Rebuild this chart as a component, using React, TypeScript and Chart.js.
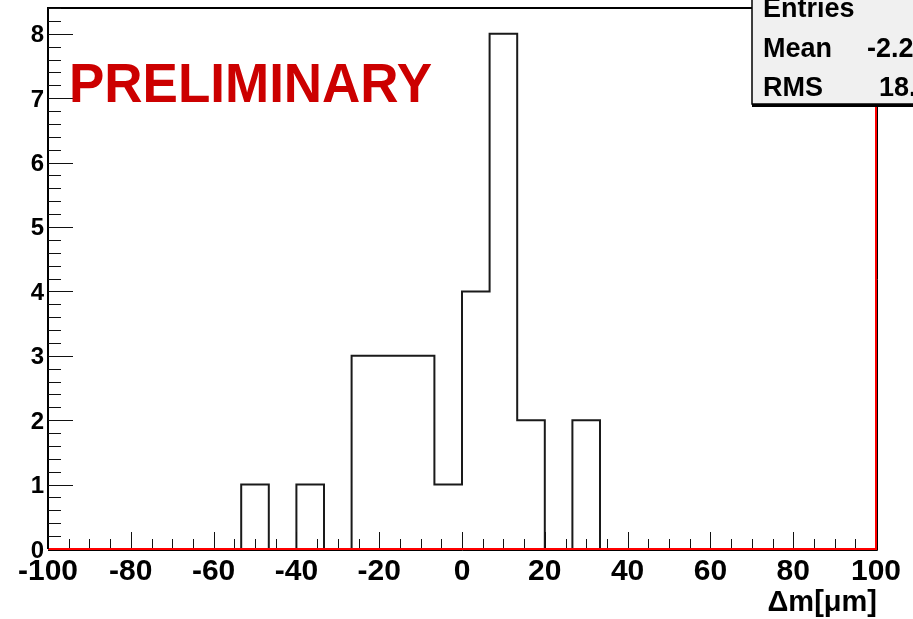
import { useEffect, useRef } from 'react';
import { Chart, registerables } from 'chart.js';

Chart.register(...registerables);

// Histogram binning: 30 equal bins over [-100, 100] µm
const X_MIN = -100;
const X_MAX = 100;
const N_BINS = 30;
const BIN_COUNTS = [0, 0, 0, 0, 0, 0, 0, 1, 0, 1, 0, 3, 3, 3, 1, 4, 8, 2, 0, 2, 0, 0, 0, 0, 0, 0, 0, 0, 0, 0];
const Y_MAX = 8.4;

// Axis labelling
const X_TICK_LABELS = ['-100', '-80', '-60', '-40', '-20', '0', '20', '40', '60', '80', '100'];
const Y_TICK_LABELS = ['0', '1', '2', '3', '4', '5', '6', '7', '8'];
const X_MAJOR_STEP = 20;
const X_MINOR_STEP = 5;
const Y_MINOR_STEP = 0.2;
const AXIS_TITLE = '\u0394m[\u03bcm]';
const WATERMARK = 'PRELIMINARY';

// Statistics panel rows
const STAT_NAMES = ['Entries', 'Mean', 'RMS'];
const STAT_VALUES = ['', '-2.2', '18.'];

const FONT = '"Liberation Sans", Arial, Helvetica, sans-serif';

function histogramPoints() {
  const w = (X_MAX - X_MIN) / N_BINS;
  const pts = BIN_COUNTS.map((c, k) => ({ x: X_MIN + k * w, y: c }));
  pts.push({ x: X_MAX, y: 0 });
  return pts;
}

const decorations = {
  id: 'rootStyle',
  afterDatasetsDraw(chart: any) {
    const ctx: CanvasRenderingContext2D = chart.ctx;
    const xs = chart.scales.x;
    const ys = chart.scales.y;
    const { left, right, top, bottom } = chart.chartArea;
    ctx.save();

    // frame: black top/left, thin black outside the red zero line
    ctx.strokeStyle = '#000';
    ctx.lineWidth = 2;
    ctx.beginPath();
    ctx.moveTo(left, bottom);
    ctx.lineTo(left, top);
    ctx.lineTo(right, top);
    ctx.stroke();
    ctx.lineWidth = 1;
    ctx.beginPath();
    ctx.moveTo(left, bottom + 1.5);
    ctx.lineTo(right + 1.5, bottom + 1.5);
    ctx.lineTo(right + 1.5, top);
    ctx.stroke();

    // x ticks (inward, up from the axis)
    ctx.lineWidth = 1;
    ctx.strokeStyle = '#111';
    const nx = Math.round((X_MAX - X_MIN) / X_MINOR_STEP);
    ctx.beginPath();
    for (let i = 1; i < nx; i++) {
      const v = X_MIN + i * X_MINOR_STEP;
      const px = Math.round(xs.getPixelForValue(v)) + 0.5;
      const len = v % X_MAJOR_STEP === 0 ? 16 : 9;
      ctx.moveTo(px, bottom - 1);
      ctx.lineTo(px, bottom - 1 - len);
    }
    ctx.stroke();

    // y ticks (inward, right from the axis)
    const ny = Math.round(Y_MAX / Y_MINOR_STEP);
    ctx.beginPath();
    for (let i = 1; i <= ny; i++) {
      const py = Math.round(ys.getPixelForValue(i * Y_MINOR_STEP)) + 0.5;
      const len = i % 5 === 0 ? 25 : 13;
      ctx.moveTo(left, py);
      ctx.lineTo(left + len, py);
    }
    ctx.stroke();

    // tick labels
    ctx.fillStyle = '#000';
    ctx.font = `bold 24px ${FONT}`;
    ctx.textAlign = 'right';
    ctx.textBaseline = 'alphabetic';
    Y_TICK_LABELS.forEach((t) => {
      const py = ys.getPixelForValue(Number(t));
      ctx.fillText(t, left - 4, py + 8.5);
    });
    ctx.font = `bold 30px ${FONT}`;
    ctx.textAlign = 'center';
    X_TICK_LABELS.forEach((t) => {
      const px = xs.getPixelForValue(Number(t));
      ctx.fillText(t, px, bottom + 31);
    });

    // axis title
    ctx.font = `bold 29px ${FONT}`;
    ctx.textAlign = 'right';
    ctx.fillText(AXIS_TITLE, right + 1, bottom + 62);

    // watermark
    ctx.font = `bold 56px ${FONT}`;
    ctx.textAlign = 'left';
    ctx.fillStyle = '#cc0000';
    const tw = ctx.measureText(WATERMARK).width;
    ctx.save();
    ctx.translate(69, 102);
    ctx.scale(363 / tw, 1);
    ctx.fillText(WATERMARK, 0, 0);
    ctx.restore();

    // statistics panel
    const bx = 752;
    const by = -10;
    const bw = 200;
    const bh = 114;
    ctx.fillStyle = '#000';
    ctx.fillRect(bx, by + bh, bw, 3);
    ctx.fillStyle = '#f0f0f0';
    ctx.fillRect(bx, by, bw, bh);
    ctx.strokeStyle = '#000';
    ctx.lineWidth = 1.5;
    ctx.strokeRect(bx, by, bw, bh);
    ctx.fillStyle = '#000';
    ctx.font = `bold 27px ${FONT}`;
    ctx.textAlign = 'left';
    const rowY = [17, 57, 96];
    const valX = [0, 867, 879];
    STAT_NAMES.forEach((n, i) => {
      ctx.fillText(n, 763, rowY[i]);
      if (STAT_VALUES[i]) ctx.fillText(STAT_VALUES[i], valX[i], rowY[i]);
    });

    ctx.restore();
  },
};

export default function App() {
  const ref = useRef<HTMLCanvasElement | null>(null);

  useEffect(() => {
    document.body.style.margin = '0';
    const canvas = ref.current;
    if (!canvas) return;
    const chart = new Chart(canvas, {
      type: 'line',
      data: {
        datasets: [
          {
            label: 'baseline',
            data: [
              { x: X_MIN, y: 0 },
              { x: X_MAX, y: 0 },
              { x: X_MAX, y: Y_MAX },
            ],
            borderColor: '#ff0000',
            borderWidth: 2,
            pointRadius: 0,
            fill: false,
            clip: 4,
          },
          {
            label: 'hist',
            data: histogramPoints(),
            stepped: true,
            borderColor: '#1a1a1a',
            borderWidth: 2,
            pointRadius: 0,
            fill: false,
            clip: 4,
          },
        ],
      },
      options: {
        responsive: false,
        animation: false,
        events: [],
        devicePixelRatio: 1,
        layout: { padding: { left: 48, right: 37, top: 8, bottom: 70 } },
        plugins: { legend: { display: false }, tooltip: { enabled: false } },
        scales: {
          x: { type: 'linear', min: X_MIN, max: X_MAX, display: false },
          y: { type: 'linear', min: 0, max: Y_MAX, display: false },
        },
      },
      plugins: [decorations],
    });
    return () => chart.destroy();
  }, []);

  return (
    <div style={{ position: 'absolute', left: 0, top: 0, width: 913, height: 619, background: '#fff' }}>
      <canvas ref={ref} width={913} height={619} />
    </div>
  );
}
